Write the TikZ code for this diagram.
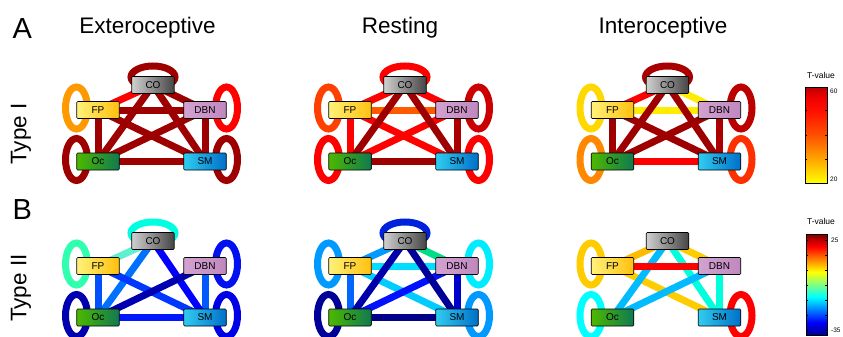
\documentclass[tikz,border=0pt]{standalone}
\usepackage{fontspec}
\setmainfont{Liberation Sans}
\pgfdeclarelayer{bg}
\pgfsetlayers{bg,main}
% box fills
\definecolor{coL}{HTML}{D0D0D0}\definecolor{coR}{HTML}{454545}
\definecolor{fpL}{HTML}{FFF27A}\definecolor{fpR}{HTML}{FFC00E}
\definecolor{dbL}{HTML}{D2A2D0}\definecolor{dbR}{HTML}{C088BE}
\definecolor{ocL}{HTML}{4DB800}\definecolor{ocR}{HTML}{107A50}
\definecolor{smL}{HTML}{30CCF0}\definecolor{smR}{HTML}{0070C8}
% type I colours
\definecolor{dred}{HTML}{9E0000}
\definecolor{rd}{HTML}{FF0000}
\definecolor{orA}{HTML}{FF9900}
% colormaps
\definecolor{tA}{HTML}{FFFF00}\definecolor{tB}{HTML}{FFA500}
\definecolor{tC}{HTML}{FF5000}\definecolor{tD}{HTML}{FF1000}
\definecolor{tE}{HTML}{EE0000}\definecolor{tF}{HTML}{B80000}
\definecolor{jA}{rgb}{0,0,0.5625}\definecolor{jB}{rgb}{0.5,0,0}
\pgfdeclareverticalshading{typeone}{100bp}{color(0bp)=(tA); color(25bp)=(tA); color(37.5bp)=(tB); color(50bp)=(tC); color(62.5bp)=(tD); color(70bp)=(tE); color(75bp)=(tF); color(100bp)=(tF)}
\pgfdeclareverticalshading{jetmap}{100bp}{color(0bp)=(jA); color(25bp)=(jA); color(31.25bp)=(blue); color(43.75bp)=(cyan); color(56.25bp)=(yellow); color(68.75bp)=(red); color(75bp)=(jB); color(100bp)=(jB)}
\tikzset{
  box/.style={draw=black, line width=0.6pt, rounded corners=1pt, minimum width=42.5pt,
    minimum height=17pt, inner sep=0pt, font=\fontsize{10}{12}\selectfont},
  conn/.style={line width=7pt},
  title/.style={font=\fontsize{22.5}{27}\selectfont, anchor=base},
  letter/.style={font=\fontsize{29}{34}\selectfont, anchor=base west},
  small/.style={font=\fontsize{8.5}{10}\selectfont},
  tick/.style={font=\fontsize{6.5}{8}\selectfont, anchor=west, inner sep=0pt},
  cbar/.style={draw=black, line width=0.8pt}
}
\newcommand\mkboxes[1]{%
  \node[box, left color=coL, right color=coR] (#1CO) at (153,85) {CO};
  \node[box, left color=fpL, right color=fpR] (#1FP) at (98,110) {FP};
  \node[box, left color=dbL, right color=dbR] (#1DBN) at (205,110) {DBN};
  \node[box, left color=ocL, right color=ocR] (#1Oc) at (98,161.5) {Oc};
  \node[box, left color=smL, right color=smR] (#1SM) at (205,161.5) {SM};
}
\newcommand\lnk[3]{\draw[conn, draw={#3}] (#1.center) -- (#2.center);}
\newcommand\lpl[2]{\draw[conn, draw={#2}] ([shift={(-21.5,-2)}]#1.center) ellipse [x radius=11pt, y radius=21pt];}
\newcommand\lpr[2]{\draw[conn, draw={#2}] ([shift={(21.5,-2)}]#1.center) ellipse [x radius=11pt, y radius=21pt];}
\newcommand\lpt[2]{\draw[conn, draw={#2}] ([shift={(0,-8)}]#1.center) ellipse [x radius=22pt, y radius=11pt];}
\begin{document}
\begin{tikzpicture}[x=1pt, y=-1pt]
\useasboundingbox (0,0) rectangle (843,337);
\begin{pgfonlayer}{bg}
\fill[white] (0,0) rectangle (843,337);
\end{pgfonlayer}

% headings
\node[letter] (lA) at (9,38.5) {A};
\node[letter] (lB) at (9,219) {B};
\node[title] (t1) at (147.5,34) {Exteroceptive};
\node[title] (t2) at (400,34) {Resting};
\node[title] (t3) at (663,34) {Interoceptive};
\node[font=\fontsize{22.5}{27}\selectfont, rotate=90] (ty1) at (21,134) {Type I};
\node[font=\fontsize{22.5}{27}\selectfont, rotate=90] (ty2) at (21,288) {Type II};

% ---------- Row A, Exteroceptive ----------
\begin{scope}
\mkboxes{a}
\begin{pgfonlayer}{bg}
\lpt{aCO}{dred}
\lpl{aFP}{orA}
\lpr{aDBN}{rd}
\lpl{aOc}{dred}
\lpr{aSM}{dred}
\lnk{aCO}{aFP}{rd}
\lnk{aCO}{aDBN}{dred}
\lnk{aCO}{aOc}{dred}
\lnk{aCO}{aSM}{dred}
\lnk{aFP}{aDBN}{dred}
\lnk{aFP}{aOc}{dred}
\lnk{aFP}{aSM}{dred}
\lnk{aDBN}{aOc}{dred}
\lnk{aDBN}{aSM}{dred}
\lnk{aOc}{aSM}{dred}
\end{pgfonlayer}
\end{scope}

% ---------- Row A, Resting ----------
\begin{scope}[shift={(252,0)}]
\mkboxes{b}
\begin{pgfonlayer}{bg}
\lpt{bCO}{rd}
\lpl{bFP}{rgb,255:red,255;green,64;blue,0}
\lpr{bDBN}{rgb,255:red,204;green,0;blue,0}
\lpl{bOc}{rd}
\lpr{bSM}{rd}
\lnk{bCO}{bFP}{rd}
\lnk{bCO}{bDBN}{rd}
\lnk{bFP}{bOc}{rd}
\lnk{bFP}{bSM}{rd}
\lnk{bDBN}{bOc}{rd}
\lnk{bFP}{bDBN}{rgb,255:red,255;green,90;blue,0}
\lnk{bCO}{bOc}{dred}
\lnk{bCO}{bSM}{dred}
\lnk{bDBN}{bSM}{rgb,255:red,170;green,0;blue,0}
\lnk{bOc}{bSM}{dred}
\end{pgfonlayer}
\end{scope}

% ---------- Row A, Interoceptive ----------
\begin{scope}[shift={(514.5,0)}]
\mkboxes{c}
\begin{pgfonlayer}{bg}
\lpt{cCO}{rgb,255:red,168;green,0;blue,0}
\lpl{cFP}{rgb,255:red,255;green,216;blue,0}
\lpr{cDBN}{rgb,255:red,187;green,0;blue,0}
\lpl{cOc}{rgb,255:red,255;green,136;blue,0}
\lpr{cSM}{rgb,255:red,255;green,48;blue,0}
\lnk{cCO}{cFP}{rd}
\lnk{cCO}{cDBN}{rgb,255:red,255;green,236;blue,0}
\lnk{cFP}{cDBN}{rgb,255:red,255;green,236;blue,0}
\lnk{cOc}{cSM}{rd}
\lnk{cCO}{cOc}{dred}
\lnk{cCO}{cSM}{dred}
\lnk{cFP}{cOc}{dred}
\lnk{cFP}{cSM}{dred}
\lnk{cDBN}{cOc}{dred}
\lnk{cDBN}{cSM}{rgb,255:red,170;green,0;blue,0}
\end{pgfonlayer}
\end{scope}

% ---------- Row B, Exteroceptive ----------
\begin{scope}[shift={(0,156)}]
\mkboxes{d}
\begin{pgfonlayer}{bg}
\lpt{dCO}{rgb,255:red,0;green,255;blue,224}
\lpl{dFP}{rgb,255:red,48;green,255;blue,176}
\lpr{dDBN}{rgb,255:red,0;green,16;blue,240}
\lpl{dOc}{rgb,255:red,0;green,0;blue,176}
\lpr{dSM}{rgb,255:red,0;green,0;blue,232}
\lnk{dCO}{dFP}{rgb,255:red,96;green,240;blue,208}
\lnk{dCO}{dOc}{rgb,255:red,0;green,112;blue,255}
\lnk{dFP}{dOc}{rgb,255:red,0;green,80;blue,255}
\lnk{dDBN}{dSM}{rgb,255:red,0;green,90;blue,255}
\lnk{dFP}{dSM}{rgb,255:red,0;green,56;blue,255}
\lnk{dCO}{dSM}{rgb,255:red,0;green,0;blue,255}
\lnk{dDBN}{dOc}{rgb,255:red,0;green,0;blue,176}
\lnk{dOc}{dSM}{rgb,255:red,0;green,24;blue,255}
\end{pgfonlayer}
\end{scope}

% ---------- Row B, Resting ----------
\begin{scope}[shift={(252,156)}]
\mkboxes{e}
\begin{pgfonlayer}{bg}
\lpt{eCO}{rgb,255:red,0;green,34;blue,221}
\lpl{eFP}{rgb,255:red,0;green,153;blue,255}
\lpr{eDBN}{rgb,255:red,0;green,236;blue,255}
\lpl{eOc}{rgb,255:red,0;green,0;blue,153}
\lpr{eSM}{rgb,255:red,0;green,153;blue,255}
\lnk{eCO}{eFP}{rgb,255:red,0;green,153;blue,255}
\lnk{eCO}{eDBN}{rgb,255:red,0;green,221;blue,136}
\lnk{eFP}{eDBN}{rgb,255:red,0;green,221;blue,255}
\lnk{eFP}{eSM}{rgb,255:red,0;green,204;blue,255}
\lnk{eFP}{eOc}{rgb,255:red,0;green,102;blue,255}
\lnk{eDBN}{eOc}{rgb,255:red,0;green,17;blue,255}
\lnk{eCO}{eOc}{rgb,255:red,0;green,0;blue,170}
\lnk{eCO}{eSM}{rgb,255:red,0;green,0;blue,153}
\lnk{eDBN}{eSM}{rgb,255:red,0;green,0;blue,204}
\lnk{eOc}{eSM}{rgb,255:red,0;green,0;blue,136}
\end{pgfonlayer}
\end{scope}

% ---------- Row B, Interoceptive ----------
\begin{scope}[shift={(514.5,156)}]
\mkboxes{f}
\begin{pgfonlayer}{bg}
\lpl{fFP}{rgb,255:red,255;green,204;blue,0}
\lpl{fOc}{rgb,255:red,0;green,255;blue,255}
\lpr{fSM}{rgb,255:red,255;green,0;blue,0}
\lnk{fCO}{fFP}{rgb,255:red,255;green,187;blue,0}
\lnk{fCO}{fDBN}{rgb,255:red,255;green,204;blue,0}
\lnk{fCO}{fSM}{rgb,255:red,0;green,255;blue,221}
\lnk{fDBN}{fSM}{rgb,255:red,0;green,255;blue,221}
\lnk{fFP}{fSM}{rgb,255:red,255;green,204;blue,0}
\lnk{fDBN}{fOc}{rgb,255:red,0;green,187;blue,255}
\lnk{fCO}{fOc}{rgb,255:red,0;green,187;blue,255}
\lnk{fFP}{fDBN}{rgb,255:red,255;green,0;blue,0}
\end{pgfonlayer}
\end{scope}

% ---------- colour bars ----------
\node[small] (cbA) at (821,75.5) {T-value};
\shade[shading=typeone] (805,87) rectangle (827,183);
\draw[cbar] (805,87) rectangle (827,183);
\foreach \yy in {110,135.5,159} {\draw[line width=0.6pt] (805,\yy) -- (807,\yy) (827,\yy) -- (825,\yy);}
\node[tick] (cbA60) at (830,91) {60};
\node[tick] (cbA20) at (830,179) {20};

\node[small] (cbB) at (821,221) {T-value};
\shade[shading=jetmap] (806,234) rectangle (827,335);
\draw[cbar] (806,234) rectangle (827,335);
\foreach \yy in {240,255,270,285,300,315,330} {\draw[line width=0.6pt] (806,\yy) -- (808,\yy) (827,\yy) -- (825,\yy);}
\node[tick] (cbB25) at (831,240) {25};
\node[tick] (cbBm35) at (831,330) {-35};
\end{tikzpicture}
\end{document}
